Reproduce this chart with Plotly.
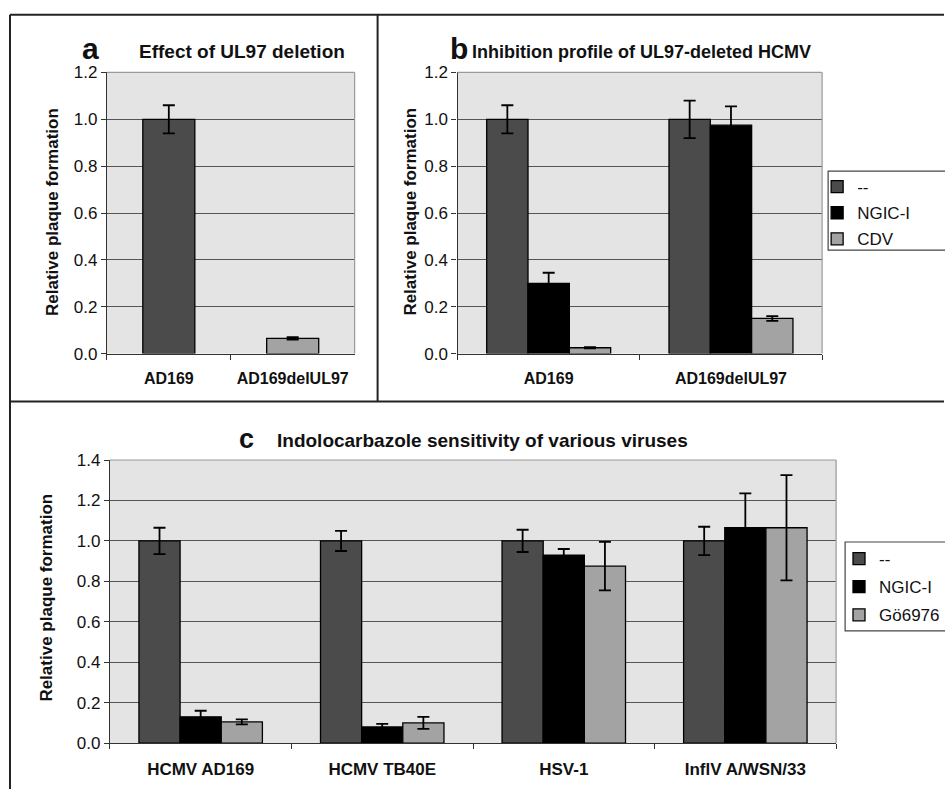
import plotly.graph_objects as go

W, H = 945, 799

# ---------------- data ----------------
a_categories = ["AD169", "AD169delUL97"]
a_values = [1.0, 0.065]
a_errors = [0.06, 0.005]

b_categories = ["AD169", "AD169delUL97"]
b_none = [1.0, 1.0]
b_none_err = [0.06, 0.08]
b_ngic = [0.30, 0.975]
b_ngic_err = [0.045, 0.08]
b_cdv = [0.025, 0.15]
b_cdv_err = [0.003, 0.01]

c_categories = ["HCMV AD169", "HCMV TB40E", "HSV-1", "InflV A/WSN/33"]
c_none = [1.0, 1.0, 1.0, 1.0]
c_none_err = [0.065, 0.05, 0.055, 0.07]
c_ngic = [0.13, 0.08, 0.93, 1.065]
c_ngic_err = [0.03, 0.015, 0.03, 0.17]
c_go = [0.105, 0.10, 0.875, 1.065]
c_go_err = [0.012, 0.03, 0.12, 0.26]

series_names_b = ["--", "NGIC-I", "CDV"]
series_names_c = ["--", "NGIC-I", "Gö6976"]

# ---------------- styles ----------------
DARK = "#4b4b4b"
BLACK = "#000000"
LIGHT = "#a3a3a3"
BG = "#e4e4e4"
GRID = "#555555"
FONT = "Liberation Sans, Arial, sans-serif"


def px(x):
    return x / W


def py(y):
    return 1 - y / H


def err(vals):
    return dict(type="data", array=vals, visible=True, color="black",
                thickness=1.8, width=6)


bar_line = dict(color="black", width=1.3)

fig = go.Figure()

# panel a
fig.add_trace(go.Bar(x=a_categories, y=a_values, error_y=err(a_errors),
                     marker=dict(color=[DARK, LIGHT], line=bar_line),
                     width=0.42, showlegend=False, xaxis="x", yaxis="y"))

# panel b
for name, vals, e, col in zip(series_names_b,
                              [b_none, b_ngic, b_cdv],
                              [b_none_err, b_ngic_err, b_cdv_err],
                              [DARK, BLACK, LIGHT]):
    fig.add_trace(go.Bar(x=b_categories, y=vals, name=name, error_y=err(e),
                         marker=dict(color=col, line=bar_line),
                         xaxis="x2", yaxis="y2", legend="legend",
                         legendgroup="b" + name))

# panel c
for name, vals, e, col in zip(series_names_c,
                              [c_none, c_ngic, c_go],
                              [c_none_err, c_ngic_err, c_go_err],
                              [DARK, BLACK, LIGHT]):
    fig.add_trace(go.Bar(x=c_categories, y=vals, name=name, error_y=err(e),
                         marker=dict(color=col, line=bar_line),
                         xaxis="x3", yaxis="y3", legend="legend2",
                         legendgroup="c" + name))


# ---------------- axes ----------------
def xax(dom, anchor, size):
    return dict(domain=dom, anchor=anchor, type="category",
                showline=True, linecolor="#333", linewidth=1.2,
                ticks="outside", tickson="boundaries", ticklen=5,
                tickcolor="#333", showgrid=False, zeroline=False,
                tickfont=dict(family=FONT, size=size, color="#111",
                              weight="bold"),
                ticklabelstandoff=10, fixedrange=True)


def yax(dom, anchor, top):
    return dict(domain=dom, anchor=anchor, range=[0, top], dtick=0.2,
                tickformat=".1f", showline=True, linecolor="#333",
                linewidth=1.2, ticks="outside", ticklen=5, tickcolor="#333",
                showgrid=True, gridcolor=GRID, gridwidth=1, zeroline=False,
                tickfont=dict(family=FONT, size=17, color="#111"),
                fixedrange=True)


ya = [py(353), py(65)]
yc = [py(752), py(462)]

legend_font = dict(family=FONT, size=17, color="#111")

fig.update_layout(
    width=W, height=H,
    margin=dict(l=0, r=0, t=0, b=0),
    paper_bgcolor="white", plot_bgcolor=BG,
    barmode="group", bargap=0.32, bargroupgap=0,
    font=dict(family=FONT, color="#111"),
    xaxis=xax([px(107), px(355)], "y", 16),
    yaxis=yax(ya, "x", 1.2),
    xaxis2=xax([px(458), px(823)], "y2", 16),
    yaxis2=yax(ya, "x2", 1.2),
    xaxis3=xax([px(110), px(837)], "y3", 17),
    yaxis3=yax(yc, "x3", 1.4),
    legend=dict(x=px(818), y=py(164), xanchor="left", yanchor="top",
                bgcolor="rgba(0,0,0,0)", borderwidth=0,
                font=legend_font, tracegroupgap=1, itemwidth=30),
    legend2=dict(x=px(840), y=py(545), xanchor="left", yanchor="top",
                 bgcolor="rgba(0,0,0,0)", borderwidth=0,
                 font=legend_font, tracegroupgap=3, itemwidth=30),
)

shapes = []
# plot-area top/right borders (light gray)
for xr, yr in [("x", "y"), ("x2", "y2"), ("x3", "y3")]:
    shapes.append(dict(type="line", xref=xr + " domain", yref=yr + " domain",
                       x0=0, x1=1, y0=1, y1=1,
                       line=dict(color="#9a9a9a", width=1.2), layer="above"))
    shapes.append(dict(type="line", xref=xr + " domain", yref=yr + " domain",
                       x0=1, x1=1, y0=0, y1=1,
                       line=dict(color="#9a9a9a", width=1.2), layer="above"))

# legend boxes (run off the right edge as in the reference)
for x0, y0, y1 in [(829, 166, 247), (846, 546, 637)]:
    shapes.append(dict(type="rect", xref="paper", yref="paper",
                       x0=px(x0), x1=px(960), y0=py(y1), y1=py(y0),
                       fillcolor="white", line=dict(color="#444", width=1.2),
                       layer="above"))

# panel frames
frame = dict(color="#222", width=2)
shapes += [
    dict(type="line", xref="paper", yref="paper", x0=px(10), x1=px(10),
         y0=py(6), y1=0, line=frame),
    dict(type="line", xref="paper", yref="paper", x0=px(10), x1=1,
         y0=py(6), y1=py(6), line=frame),
    dict(type="line", xref="paper", yref="paper", x0=px(378), x1=px(378),
         y0=py(6), y1=py(402), line=frame),
    dict(type="line", xref="paper", yref="paper", x0=px(10), x1=1,
         y0=py(402), y1=py(402), line=frame),
]
fig.update_layout(shapes=shapes)

# titles
ann = []


def text(x, y, s, size, bold=True, xanchor="left", angle=0):
    ann.append(dict(x=px(x), y=py(y), xref="paper", yref="paper", text=s,
                    showarrow=False, xanchor=xanchor, yanchor="middle",
                    textangle=angle,
                    font=dict(family=FONT, size=size, color="#111",
                              weight="bold" if bold else "normal")))


text(80, 40, "a", 30)
text(137, 44, "Effect of UL97 deletion", 19)
text(448, 40, "b", 30)
text(470, 44, "Inhibition profile of UL97-deleted HCMV", 18)
text(237, 440, "c", 27)
text(275, 442, "Indolocarbazole sensitivity of various viruses", 19)

text(52, 208, "Relative plaque formation", 17, xanchor="center", angle=-90)
text(410, 208, "Relative plaque formation", 17, xanchor="center", angle=-90)
text(47, 603, "Relative plaque formation", 17, xanchor="center", angle=-90)

fig.update_layout(annotations=ann)

fig.write_html("out.html",
               config={"displayModeBar": False},
               post_script="document.documentElement.style.margin='0';"
                           "document.body.style.margin='0';"
                           "document.documentElement.style.overflow='hidden';"
                           "document.body.style.overflow='hidden';")
